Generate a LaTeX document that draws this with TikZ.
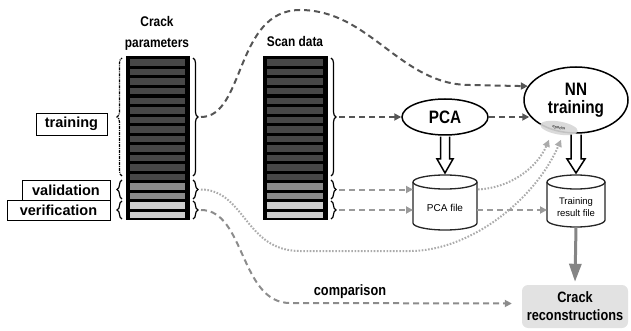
\documentclass[tikz,border=0pt]{standalone}
\usepackage{fontspec}
\setmainfont{Liberation Sans}
\newfontfamily\nar[FakeStretch=0.85]{Liberation Sans}
\usetikzlibrary{shapes.geometric,arrows.meta,calc,decorations.pathreplacing}
\definecolor{dkrow}{HTML}{474747}
\definecolor{mdrow}{HTML}{8A8A8A}
\definecolor{ltrow}{HTML}{CDCDCD}
\definecolor{dkc}{HTML}{555555}
\definecolor{ltc}{HTML}{9A9A9A}
\definecolor{dtc}{HTML}{ABABAB}
\definecolor{cmpc}{HTML}{8C8C8C}
\definecolor{crc}{HTML}{E2E2E2}
\definecolor{epc}{HTML}{D6D6D6}
\definecolor{gry}{HTML}{858585}
\tikzset{
  column/.style={draw=black, fill=black, line width=1pt, inner sep=0pt, outer sep=0pt, anchor=north west, minimum height=162pt},
  brc/.style={decorate, decoration={brace, amplitude=5pt}, line width=1.2pt},
  brcdd/.style={brc, dash pattern=on 3pt off 1pt on 1pt off 1pt},
  lab/.style={draw=black, line width=0.8pt, fill=white, inner sep=0pt, font=\bfseries\fontsize{14.5}{16}\selectfont},
  dk/.style={draw=dkc, line width=2pt, dash pattern=on 6pt off 4pt, -{Triangle[length=7pt,width=7pt]}},
  lt/.style={draw=ltc, line width=2pt, dash pattern=on 6pt off 4pt, -{Triangle[length=7pt,width=7pt]}},
  cmp/.style={draw=cmpc, line width=2pt, dash pattern=on 6pt off 4pt, -{Triangle[length=7pt,width=7pt]}},
  dt/.style={draw=dtc, line width=2pt, dash pattern=on 1.6pt off 1.6pt, -{Triangle[length=7pt,width=7pt]}},
  hollow/.style={draw=black, line width=1.5pt, fill=white, line join=miter},
  cylline/.style={draw=black!85, line width=1.3pt, fill=white},
  big/.style={font=\nar\bfseries\fontsize{18}{18}\selectfont},
}
\begin{document}
\begin{tikzpicture}[x=1pt,y=-1pt]
\useasboundingbox (0,0) rectangle (631,331);

% columns
\node[column, minimum width=63pt] (cp) at (126,57) {};
\node[column, minimum width=64pt] (sd) at (263,57) {};
\foreach \col in {cp,sd}{
  \foreach \i in {0,...,16}{
    \pgfmathsetmacro\yt{\i*9.53+2.4}
    \pgfmathsetmacro\yb{\i*9.53+8.9}
    \ifnum\i<13 \def\rc{dkrow}\else\ifnum\i<15 \def\rc{mdrow}\else\def\rc{ltrow}\fi\fi
    \fill[\rc] ($(\col.north west)+(4,\yt)$) rectangle ($(\col.north east)+(-4,\yb)$);
  }
}

% titles
\node[font=\nar\bfseries\fontsize{14}{21}\selectfont, align=center, inner sep=0pt] (cpt) at (157,33) {Crack\\parameters};
\node[font=\nar\bfseries\fontsize{14}{21}\selectfont, anchor=base, inner sep=0pt] (sdt) at (295,47) {Scan data};

% braces right of columns
\foreach \col in {cp,sd}{
  \draw[brc] ($(\col.north east)+(4,1)$) -- ($(\col.north east)+(4,119)$);
  \draw[brc] ($(\col.north east)+(4,123)$) -- ($(\col.north east)+(4,142)$);
  \draw[brc] ($(\col.north east)+(4,144)$) -- ($(\col.north east)+(4,162)$);
  \coordinate (\col Tr) at ($(\col.north east)+(12,60)$);
  \coordinate (\col Va) at ($(\col.north east)+(12,132.5)$);
  \coordinate (\col Ve) at ($(\col.north east)+(12,153)$);
}
% braces left of crack parameters
\draw[brcdd] ($(cp.north west)+(-4,119)$) -- ($(cp.north west)+(-4,1)$);
\draw[brc] ($(cp.north west)+(-4,142)$) -- ($(cp.north west)+(-4,123)$);
\draw[brc] ($(cp.north west)+(-4,162)$) -- ($(cp.north west)+(-4,144)$);

% labels
\node[lab, minimum width=71pt, minimum height=22pt] (ltr) at (71.5,124) {training};
\node[lab, minimum width=88pt, minimum height=19.5pt] (lva) at (66,190.5) {validation};
\node[lab, minimum width=103pt, minimum height=20pt] (lve) at (58.5,210.5) {verification};

% ellipses
\node[ellipse, draw=black, line width=1.5pt, fill=white, minimum width=86pt, minimum height=36pt, inner sep=0pt, big] (PCA) at (445,117) {PCA};
\node[ellipse, draw=black, line width=1.5pt, fill=white, minimum width=104pt, minimum height=66pt, inner sep=0pt, align=center, big] (NN) at (576,100) {NN\\training};
\node[ellipse, fill=epc, opacity=0.9, text opacity=1, minimum width=38pt, minimum height=13pt, inner sep=0pt, font=\fontsize{4}{4}\selectfont, rotate=-10] (ep) at (559,128) {epochs};

% cylinders
\node[minimum width=64pt, minimum height=55pt, inner sep=0pt, outer sep=0pt] (pcaf) at (445,202.5) {};
\draw[cylline] ($(pcaf.north west)+(0,7)$) -- ($(pcaf.south west)+(0,-7)$)
  arc[start angle=180, end angle=360, x radius=32pt, y radius=7pt]
  -- ($(pcaf.north east)+(0,7)$)
  arc[start angle=0, end angle=180, x radius=32pt, y radius=7pt] -- cycle;
\draw[cylline, fill=none] ($(pcaf.north west)+(0,7)$) arc[start angle=180, end angle=360, x radius=32pt, y radius=7pt];
\node[font=\fontsize{10}{12}\selectfont, inner sep=0pt] (pcat) at (445,208) {PCA file};

\node[minimum width=58pt, minimum height=52pt, inner sep=0pt, outer sep=0pt] (trf) at (576,201) {};
\draw[cylline] ($(trf.north west)+(0,7)$) -- ($(trf.south west)+(0,-7)$)
  arc[start angle=180, end angle=360, x radius=29pt, y radius=7pt]
  -- ($(trf.north east)+(0,7)$)
  arc[start angle=0, end angle=180, x radius=29pt, y radius=7pt] -- cycle;
\draw[cylline, fill=none] ($(trf.north west)+(0,7)$) arc[start angle=180, end angle=360, x radius=29pt, y radius=7pt];
\node[font=\fontsize{9.5}{12}\selectfont, align=center, inner sep=0pt] (trt) at (576,207) {Training\\result file};

% crack reconstructions
\node[rounded corners=6pt, fill=crc, minimum width=106pt, minimum height=43pt, inner sep=0pt, align=center, font=\nar\bfseries\fontsize{15}{18}\selectfont] (cr) at (575,306.5) {Crack\\reconstructions};

% hollow arrows
\draw[hollow] ($(PCA.south)+(-4.5,0.8)$) -- ($(pcaf.north)+(-4.5,-16)$) -- ($(pcaf.north)+(-8,-16)$) -- ($(pcaf.north)+(0,-2)$) -- ($(pcaf.north)+(8,-16)$) -- ($(pcaf.north)+(4.5,-16)$) -- ($(PCA.south)+(4.5,0.8)$);
\draw[hollow] ($(NN.south)+(-5,0.8)$) -- ($(trf.north)+(-5,-16)$) -- ($(trf.north)+(-9,-16)$) -- ($(trf.north)+(0,-2)$) -- ($(trf.north)+(9,-16)$) -- ($(trf.north)+(5,-16)$) -- ($(NN.south)+(5,0.8)$);

% gray result arrow
\draw[draw=gry, line width=3pt, -{Triangle[length=18pt,width=12pt]}] (trf.south) -- ($(cr.north)+(0,-3)$);

% dark dashed connectors
\draw[dk] (cpTr) .. controls (245,117) and (235,10) .. (300,10) .. controls (370,10) and (400,85) .. (470,85) -- (NN.164);
\draw[dk] (sdTr) -- (PCA.west);
\draw[dk] (PCA.east) -- ($(PCA.east -| NN.west)+(6,0)$);

% light dashed connectors
\draw[lt] (sdVa) -- (sdVa -| pcaf.west);
\draw[lt] (sdVe) -- (sdVe -| pcaf.west);
\draw[lt] (pcaf.east |- sdVe) -- (sdVe -| trf.west);

% dotted connectors
\coordinate (d1) at ($(NN.south)+(-27,6)$);
\coordinate (d2) at ($(NN.south)+(-15,6)$);
\draw[dt] ($(pcaf.east |- sdVa)+(1,0)$) .. controls (510,188) and (537,168) .. (d1);
\draw[dt] (cpVa) .. controls (245,190) and (245,251) .. (300,251) -- (410,251) .. controls (470,251) and (535,200) .. (d2);

% comparison
\draw[cmp] (cpVe) .. controls (245,210) and (240,303) .. (290,303) -- ($(cr.west)+(-10,-3)$);
\node[font=\nar\bfseries\fontsize{15}{18}\selectfont, inner sep=0pt] (cmpl) at (350,292) {comparison};
\end{tikzpicture}
\end{document}
